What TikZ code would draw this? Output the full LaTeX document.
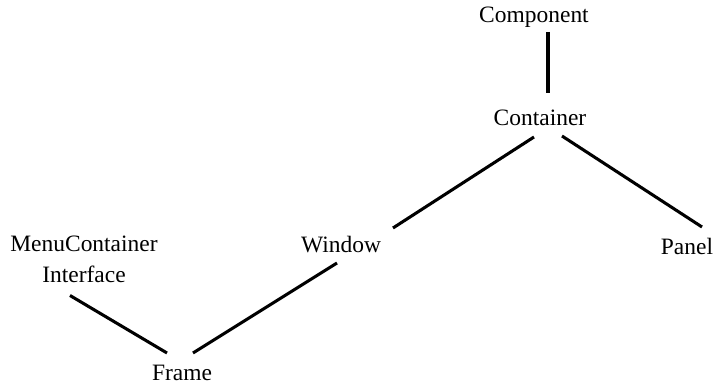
\documentclass[tikz,border=0pt]{standalone}
\usepackage{fontspec}
\setmainfont{Liberation Serif}
\begin{document}
\begin{tikzpicture}[x=0.75pt,y=-0.75pt,
    cls/.style={inner sep=0pt,anchor=base,font=\fontsize{17.6}{23.25}\selectfont},
    link/.style={black,line width=2.3pt}]
  \useasboundingbox (0,0) rectangle (719,384);
  \node[cls] (component) at (534,23) {Component};
  \node[cls] (container) at (540,126) {Container};
  \node[cls] (window) at (341,253) {Window};
  \node[cls] (panel) at (687,255) {Panel};
  \node[cls,align=center] (menu) at (84,283) {MenuContainer\\Interface};
  \node[cls] (frame) at (182,381) {Frame};
  \draw[link] ([shift={(14,9)}]component.base) -- ([shift={(8,-33)}]container.base);
  \draw[link] ([shift={(-6,11)}]container.base) -- ([shift={(52,-25)}]window.base);
  \draw[link] ([shift={(22,10)}]container.base) -- ([shift={(15,-28)}]panel.base);
  \draw[link] ([shift={(11,-28)}]frame.base) -- ([shift={(-4,10)}]window.base);
  \draw[link] ([shift={(-14,12)}]menu.south) -- ([shift={(-15,-28)}]frame.base);
\end{tikzpicture}
\end{document}
